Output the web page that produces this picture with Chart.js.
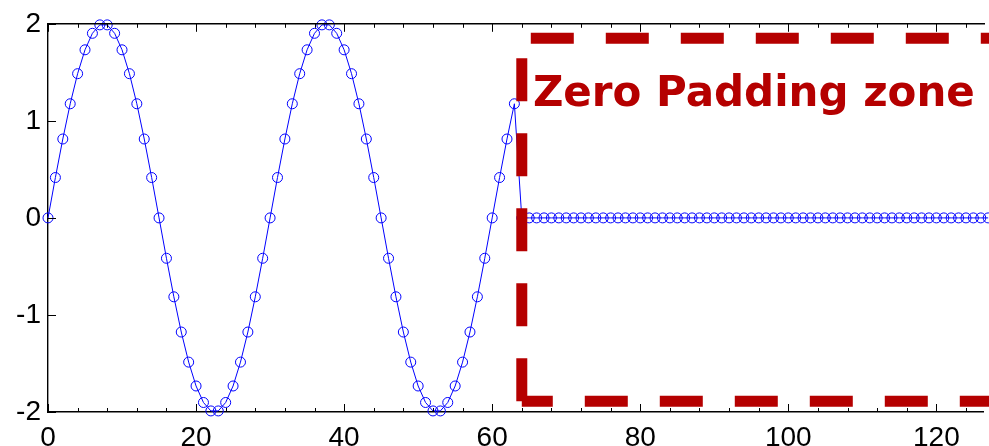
<!DOCTYPE html>
<html>
<head>
<meta charset="utf-8">
<script src="https://cdn.jsdelivr.net/npm/chart.js@4/dist/chart.umd.min.js"></script>
<style>
  html, body { margin: 0; padding: 0; background: #fff; }
  #wrap { width: 989px; height: 446px; }
</style>
</head>
<body>
<div id="wrap"><canvas id="chart-zeropad" width="989" height="446"></canvas></div>
<script>
// signal samples: 64 samples of the sine, then 64 padded zeros
var signal = [
  0, 0.416, 0.813, 1.176, 1.486, 1.732, 1.902, 1.989, 1.989, 1.902,
  1.732, 1.486, 1.176, 0.813, 0.416, 0, -0.416, -0.813, -1.176, -1.486,
  -1.732, -1.902, -1.989, -1.989, -1.902, -1.732, -1.486, -1.176, -0.813, -0.416,
  0, 0.416, 0.813, 1.176, 1.486, 1.732, 1.902, 1.989, 1.989, 1.902,
  1.732, 1.486, 1.176, 0.813, 0.416, 0, -0.416, -0.813, -1.176, -1.486,
  -1.732, -1.902, -1.989, -1.989, -1.902, -1.732, -1.486, -1.176, -0.813, -0.416,
  0, 0.416, 0.813, 1.176,
  0, 0, 0, 0, 0, 0, 0, 0, 0, 0, 0, 0, 0, 0, 0, 0,
  0, 0, 0, 0, 0, 0, 0, 0, 0, 0, 0, 0, 0, 0, 0, 0,
  0, 0, 0, 0, 0, 0, 0, 0, 0, 0, 0, 0, 0, 0, 0, 0,
  0, 0, 0, 0, 0, 0, 0, 0, 0, 0, 0, 0, 0, 0, 0, 0
];

// zero padding box (data coords)
var zoneX = [64, 135];
var zoneY = [-1.89, 1.85];
var zoneLabel = 'Zero Padding zone';
var zoneLabelAt = [65.5, 1.15];

var xRange = [0, 126.3];
var yRange = [-2, 2];
var xMajorStep = 20, xMinorStep = 4;

var RED = '#b50000';

var frameAndTicks = {
  id: 'frameAndTicks',
  afterDraw: function (chart) {
    var ctx = chart.ctx, a = chart.chartArea;
    var xs = chart.scales.x, ys = chart.scales.y;
    ctx.save();
    ctx.strokeStyle = '#000';
    ctx.lineWidth = 1.4;
    ctx.beginPath();
    ctx.moveTo(a.left, a.top);
    ctx.lineTo(a.right + 2, a.top);
    ctx.stroke();

    ctx.lineWidth = 1;
    xs.ticks.forEach(function (t) {
      var px = Math.round(xs.getPixelForValue(t.value)) + 0.5;
      var len = t.value % xMajorStep === 0 ? 8 : 4;
      ctx.beginPath();
      ctx.moveTo(px, a.bottom); ctx.lineTo(px, a.bottom - len);
      ctx.moveTo(px, a.top); ctx.lineTo(px, a.top + len);
      ctx.stroke();
    });
    ys.ticks.forEach(function (t) {
      var py = Math.round(ys.getPixelForValue(t.value)) + 0.5;
      ctx.beginPath();
      ctx.moveTo(a.left, py); ctx.lineTo(a.left + 8, py);
      ctx.stroke();
    });

    // zone label
    ctx.font = 'bold 42px "DejaVu Sans"';
    ctx.fillStyle = RED;
    ctx.textAlign = 'left';
    ctx.textBaseline = 'alphabetic';
    ctx.fillText(zoneLabel, xs.getPixelForValue(zoneLabelAt[0]), ys.getPixelForValue(zoneLabelAt[1]));
    ctx.restore();
  }
};

function zoneLine(points, dashOffset) {
  return {
    data: points,
    borderColor: RED,
    borderWidth: 11,
    borderDash: [43, 32],
    borderDashOffset: dashOffset,
    borderCapStyle: 'butt',
    pointRadius: 0,
    fill: false,
    clip: false,
    order: 0
  };
}

new Chart(document.getElementById('chart-zeropad'), {
  type: 'line',
  data: {
    datasets: [
      zoneLine([{ x: zoneX[0], y: zoneY[0] }, { x: zoneX[0], y: zoneY[1] }], 0),
      zoneLine([{ x: zoneX[0], y: zoneY[1] }, { x: zoneX[1], y: zoneY[1] }], 66),
      zoneLine([{ x: zoneX[0], y: zoneY[0] }, { x: zoneX[1], y: zoneY[0] }], 12),
      {
        data: signal.map(function (v, i) { return { x: i, y: v }; }),
        borderColor: '#0000ff',
        borderWidth: 1,
        tension: 0,
        pointStyle: 'circle',
        pointRadius: 5,
        pointBorderWidth: 1,
        pointBorderColor: '#0000ff',
        pointBackgroundColor: 'rgba(0,0,0,0)',
        fill: false,
        clip: false,
        order: 1
      }
    ]
  },
  options: {
    responsive: false,
    animation: false,
    layout: { padding: { top: 22, right: 0, left: 0, bottom: 0 } },
    plugins: { legend: { display: false }, tooltip: { enabled: false } },
    scales: {
      x: {
        type: 'linear',
        min: xRange[0], max: xRange[1],
        grid: { display: true, drawOnChartArea: false, drawTicks: false },
        border: { display: true, color: '#000', width: 1.4 },
        ticks: {
          stepSize: xMinorStep,
          includeBounds: false,
          autoSkip: false,
          maxRotation: 0,
          padding: 9,
          color: '#000',
          font: { family: '"Liberation Sans", Arial, sans-serif', size: 28 },
          callback: function (v) { return v % xMajorStep === 0 ? String(v) : ''; }
        },
        afterFit: function (s) { s.height = 34; }
      },
      y: {
        min: yRange[0], max: yRange[1],
        grid: { display: true, drawOnChartArea: false, drawTicks: false },
        border: { display: true, color: '#000', width: 1.4 },
        ticks: {
          stepSize: 1,
          padding: 7,
          color: '#000',
          font: { family: '"Liberation Sans", Arial, sans-serif', size: 28 }
        },
        afterFit: function (s) { s.width = 48; }
      }
    }
  },
  plugins: [frameAndTicks]
});
</script>
</body>
</html>
